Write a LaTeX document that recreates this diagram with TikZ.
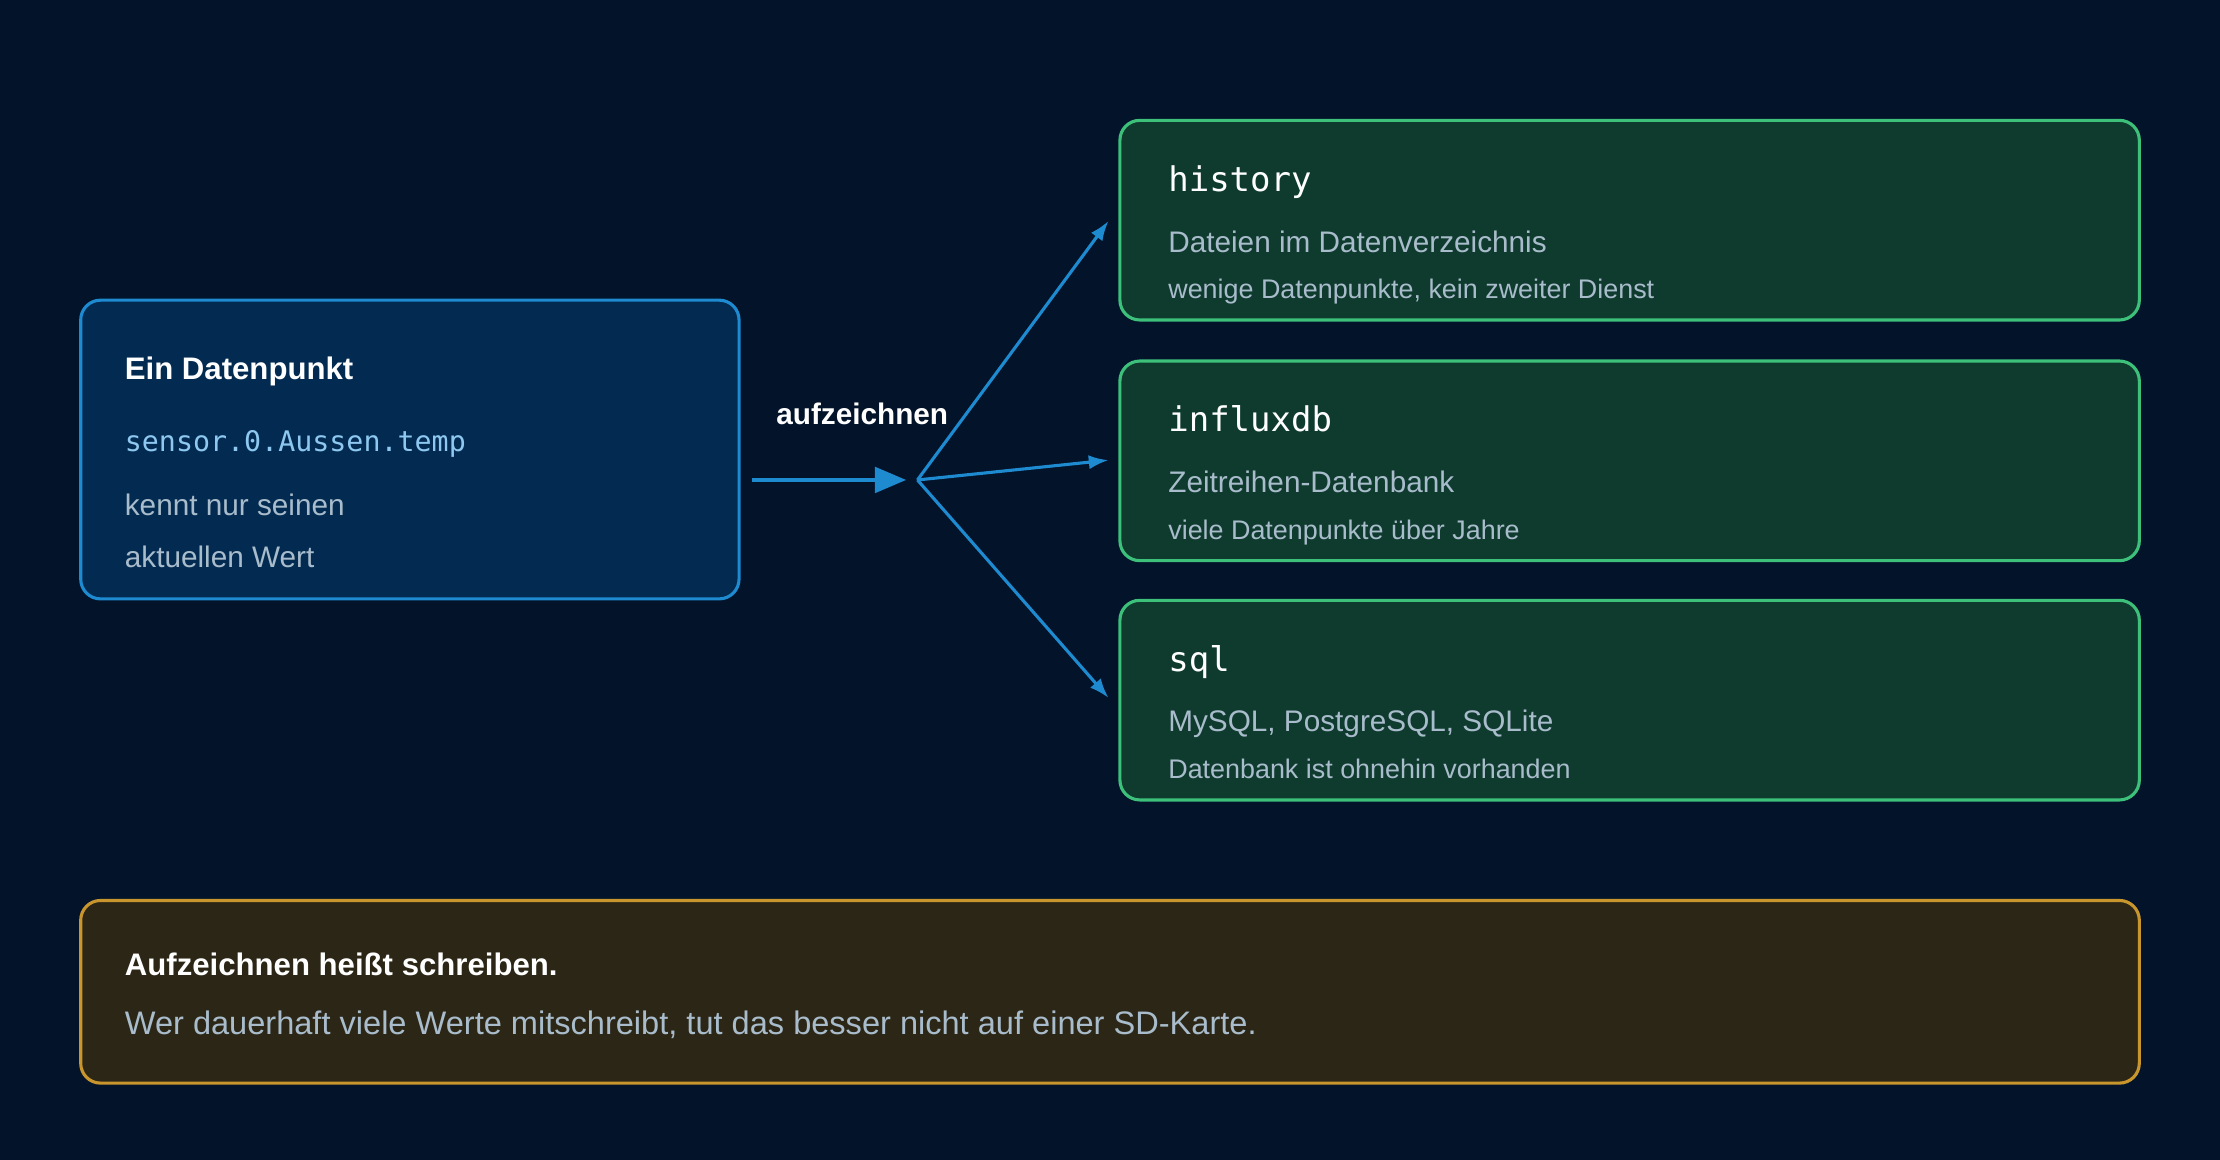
\documentclass[tikz,border=0pt]{standalone}
\usepackage{fontspec}
\setmainfont{Liberation Sans}
\setmonofont{DejaVu Sans Mono}
\usetikzlibrary{arrows.meta}
\definecolor{bg}{HTML}{02132A}
\definecolor{bfill}{HTML}{032B52}
\definecolor{bline}{HTML}{1E8AD0}
\definecolor{gfill}{HTML}{0E3B2E}
\definecolor{gline}{HTML}{3CC07A}
\definecolor{yfill}{HTML}{2C2616}
\definecolor{yline}{HTML}{C9962E}
\definecolor{txt}{HTML}{A9BCCB}
\definecolor{mono}{HTML}{8EC8F0}
\begin{document}
\begin{tikzpicture}[x=1pt,y=-1pt,
  box/.style={rounded corners=14pt,line width=2.2pt},
  t/.style={anchor=base west,inner sep=0pt},
  title/.style={t,text=white,font=\fontsize{24}{28}\selectfont\ttfamily},
  sub/.style={t,text=txt,font=\fontsize{21}{25}\selectfont},
  small/.style={t,text=txt,font=\fontsize{19}{23}\selectfont},
  con/.style={draw=bline,line width=2.2pt,-{Latex[length=14pt,width=10pt]}}]
\fill[bg] (0,0) rectangle (1568,819);
\useasboundingbox (0,0) rectangle (1568,819);
\draw[box,fill=bfill,draw=bline] (57,212) rectangle (522,423);
\node[t,text=white,font=\fontsize{22}{26}\selectfont\bfseries] (a1) at (88,268) {Ein Datenpunkt};
\node[t,text=mono,font=\fontsize{20}{24}\selectfont\ttfamily] (a2) at (88,319) {sensor.0.Aussen.temp};
\node[sub] (a3) at (88,364) {kennt nur seinen};
\node[sub] (a4) at (88,401) {aktuellen Wert};
\foreach \n/\y/\ti/\s/\m in {h/85/history/Dateien im Datenverzeichnis/{wenige Datenpunkte, kein zweiter Dienst},
  i/255/influxdb/Zeitreihen-Datenbank/viele Datenpunkte über Jahre,
  s/424/sql/{MySQL, PostgreSQL, SQLite}/Datenbank ist ohnehin vorhanden}{
  \draw[box,fill=gfill,draw=gline] (791,\y) rectangle (1511,\y+141);
  \node[title] (\n1) at (825,\y+50) {\ti};
  \node[sub] (\n2) at (825,\y+93) {\s};
  \node[small] (\n3) at (825,\y+126) {\m};
}
\coordinate (src) at (531,339);
\coordinate (hub) at (648,339);
\coordinate (eh) at (783,156);
\coordinate (ei) at (783,325);
\coordinate (es) at (783,493);
\draw[draw=bline,line width=2.6pt,-{Triangle[length=22pt,width=18pt]}] (src) -- (640,339);
\node[text=white,font=\fontsize{21}{25}\selectfont\bfseries] (lab) at (609,292) {aufzeichnen};
\draw[con] (hub) -- (eh);
\draw[con] (hub) -- (ei);
\draw[con] (hub) -- (es);
\draw[box,fill=yfill,draw=yline] (57,636) rectangle (1511,765);
\node[t,text=white,font=\fontsize{22}{26}\selectfont\bfseries] (b1) at (88,689) {Aufzeichnen heißt schreiben.};
\node[t,text=txt,font=\fontsize{23}{27}\selectfont] (b2) at (88,731) {Wer dauerhaft viele Werte mitschreibt, tut das besser nicht auf einer SD-Karte.};
\end{tikzpicture}
\end{document}
